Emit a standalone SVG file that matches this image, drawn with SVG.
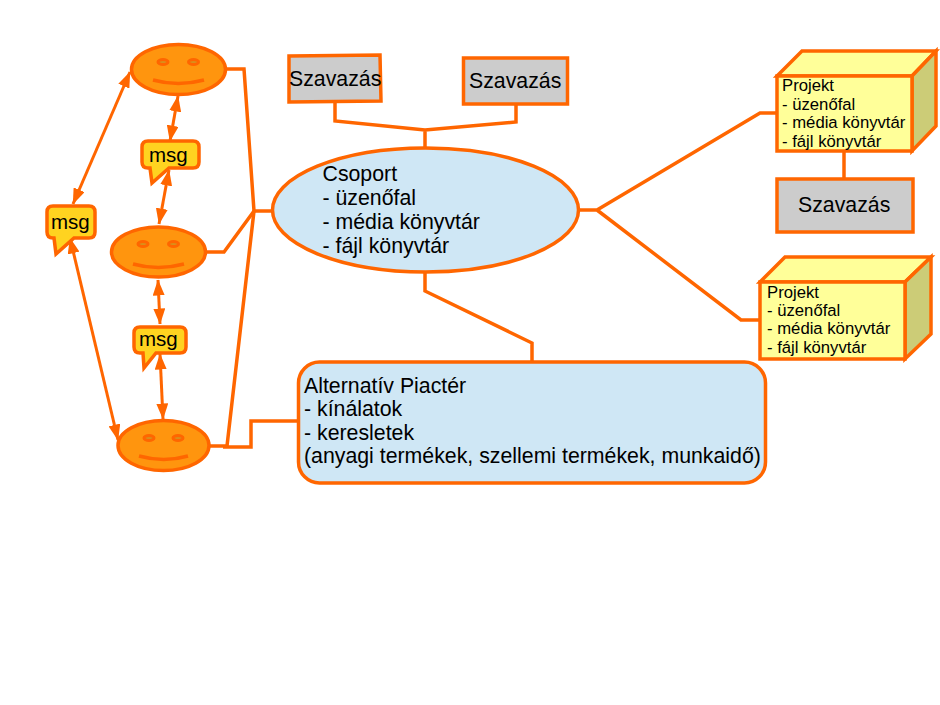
<svg xmlns="http://www.w3.org/2000/svg" width="940" height="705" viewBox="0 0 940 705">
<style>
text{font-family:"Liberation Sans",Arial,sans-serif;fill:#000}
.s{stroke:#ff6600;stroke-width:3.500;stroke-linejoin:miter}
.c{fill:none;stroke:#ff6600;stroke-width:3.500}
.a{fill:none;stroke:#ff6600;stroke-width:3;marker-start:url(#h);marker-end:url(#h)}
.face{fill:#ff950e}
.eye{fill:#d9901a;stroke:#ff6600;stroke-width:3}
.mouth{fill:none;stroke:#ff6600;stroke-width:3.500}
.msg{fill:#ffd320}
.m{font-size:20.500px}
.v{fill:#cccccc}
.sv{font-size:21.300px}
.b{fill:#cfe7f5}
.l{font-size:21.300px}
.p{font-size:16.700px}
.front{fill:#ffff99}
.top{fill:#ffff99}
.side{fill:#cccc77}
</style>
<defs>
<marker id="h" viewBox="0 0 16 12" refX="15.500" refY="6" markerWidth="16" markerHeight="12" markerUnits="userSpaceOnUse" orient="auto-start-reverse"><path d="M0 0L16 6L0 12Z" fill="#ff6600"/></marker>
</defs>
<g id="connectors">
<path class="c" d="M227 69H244L254 211H273"/>
<path class="c" d="M254 211L224 252H205"/>
<path class="c" d="M254 211L227 446H209M223 447H251V421H299"/>
<path class="c" d="M335 103V121L425 130L516 122V103M425 130V149"/>
<path class="c" d="M579 210H597L760 113H777M597 210L741 320H760"/>
<path class="c" d="M844 151V179"/>
<path class="c" d="M425 272V291L532 343V362"/>
<path class="a" d="M130 72L73 204"/>
<path class="a" d="M70 238L118 440"/>
<path class="a" d="M178 96L170 141"/>
<path class="a" d="M169 170L159 224"/>
<path class="a" d="M158 280L160 324"/>
<path class="a" d="M160 354L163 419"/>
</g>
<g id="smile1"><ellipse class="s face" cx="178.500" cy="69.500" rx="47" ry="25"/><ellipse class="eye" cx="163" cy="62" rx="5" ry="2.500"/><ellipse class="eye" cx="193.500" cy="62" rx="5" ry="2.500"/><path class="mouth" d="M153 80Q178 87 204 80"/></g>
<g id="smile2"><ellipse class="s face" cx="158.500" cy="252" rx="47" ry="25"/><ellipse class="eye" cx="143" cy="244" rx="5" ry="2.500"/><ellipse class="eye" cx="173.500" cy="244" rx="5" ry="2.500"/><path class="mouth" d="M133 264Q158 271 184 264"/></g>
<g id="smile3"><ellipse class="s face" cx="163.500" cy="445.500" rx="45.500" ry="25"/><ellipse class="eye" cx="149" cy="438" rx="5" ry="2.500"/><ellipse class="eye" cx="178" cy="438" rx="5" ry="2.500"/><path class="mouth" d="M139 456Q164 463 188 456"/></g>
<g id="msg1"><path class="s msg" d="M148 141H193Q199 141 199 147V162Q199 168 193 168H169L152 183L150 168H148Q142 168 142 162V147Q142 141 148 141Z"/><text class="m" x="149" y="162">msg</text></g>
<g id="msg2"><path class="s msg" d="M53 206H89Q95 206 95 212V232Q95 238 89 238H74L56 254L54 238H53Q47 238 47 232V212Q47 206 53 206Z"/><text class="m" x="51" y="229">msg</text></g>
<g id="msg3"><path class="s msg" d="M140 327H180Q186 327 186 333V347Q186 353 180 353H156L144 368L143 353H140Q134 353 134 347V333Q134 327 140 327Z"/><text class="m" x="139" y="346">msg</text></g>
<g id="vote1"><path class="s v" d="M289 56L380 55L381 101L289 102Z"/><text class="sv" x="289" y="86">Szavazás</text></g>
<g id="vote2"><rect class="s v" x="463.500" y="58" width="104" height="46"/><text class="sv" x="469" y="88">Szavazás</text></g>
<g id="vote3"><rect class="s v" x="777" y="179" width="136" height="53"/><text class="sv" x="798" y="212">Szavazás</text></g>
<g id="group"><ellipse class="s b" cx="425.500" cy="210" rx="153" ry="62"/><text class="l" x="322.500" y="181">Csoport</text><text class="l" x="322.500" y="205">- üzenőfal</text><text class="l" x="322.500" y="229">- média könyvtár</text><text class="l" x="322.500" y="253">- fájl könyvtár</text></g>
<g id="market"><rect class="s b" x="298.500" y="362" width="467" height="121" rx="21"/><text class="l" x="304" y="393">Alternatív Piactér</text><text class="l" x="304" y="416">- kínálatok</text><text class="l" x="304" y="440">- keresletek</text><text class="l" x="304" y="463">(anyagi termékek, szellemi termékek, munkaidő)</text></g>
<g id="project1"><path class="s top" d="M777 76L802 51H936L912 76Z"/><path class="s side" d="M912 76L936 51V126L912 151Z"/><rect class="s front" x="777" y="76" width="135" height="75"/><text class="p" x="782" y="91">Projekt</text><text class="p" x="782" y="110">- üzenőfal</text><text class="p" x="782" y="128">- média könyvtár</text><text class="p" x="782" y="147">- fájl könyvtár</text></g>
<g id="project2"><path class="s top" d="M760 282L785 257H931L905 282Z"/><path class="s side" d="M905 282L931 257V334L905 359Z"/><rect class="s front" x="760" y="282" width="145" height="77"/><text class="p" x="767" y="298">Projekt</text><text class="p" x="767" y="316">- üzenőfal</text><text class="p" x="767" y="334">- média könyvtár</text><text class="p" x="767" y="353">- fájl könyvtár</text></g>
</svg>
